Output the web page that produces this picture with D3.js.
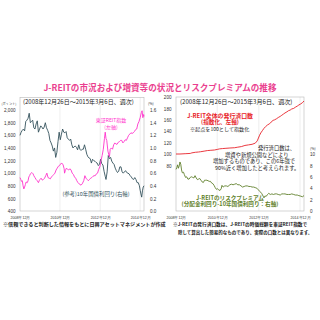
<!DOCTYPE html>
<html>
<head>
<meta charset="utf-8">
<script src="https://cdn.jsdelivr.net/npm/d3@7"></script>
<style>
  body { margin: 0; background: #fff; }
  svg { display: block; font-family: "Noto Sans CJK JP", "Noto Sans", sans-serif; }
  .ax text { fill: #333; }
</style>
</head>
<body>
<svg width="320" height="320"></svg>
<script>
// 東証REIT指数 (left chart, left axis, points)
const reitIndex = [
  ["2008-12-26",930],["2009-01-09",900],["2009-01-23",870],["2009-02-06",880],["2009-02-20",800],
  ["2009-03-06",750],["2009-03-20",780],["2009-04-03",820],["2009-04-17",860],["2009-05-08",850],
  ["2009-05-22",880],["2009-06-05",940],["2009-06-19",960],["2009-07-03",990],["2009-07-17",1000],
  ["2009-07-31",1010],["2009-08-21",990],["2009-09-04",960],["2009-09-25",930],["2009-10-16",900],
  ["2009-11-06",880],["2009-11-27",850],["2009-12-11",880],["2009-12-25",900],["2010-01-15",920],
  ["2010-02-05",890],["2010-02-26",900],["2010-03-19",920],["2010-04-09",960],["2010-04-30",1000],
  ["2010-05-21",930],["2010-06-11",920],["2010-07-02",910],["2010-07-23",940],["2010-08-13",960],
  ["2010-09-03",980],["2010-09-24",1000],["2010-10-15",1050],["2010-11-05",1080],["2010-11-26",1110],
  ["2010-12-17",1120],["2011-01-07",1150],["2011-01-28",1155],["2011-02-18",1140],["2011-03-11",1070],
  ["2011-03-18",1000],["2011-04-01",1040],["2011-04-22",1080],["2011-05-13",1060],["2011-06-03",1050],
  ["2011-06-24",1070],["2011-07-15",1050],["2011-08-05",1000],["2011-08-26",980],["2011-09-16",940],
  ["2011-10-07",920],["2011-10-28",880],["2011-11-18",850],["2011-12-09",830],["2012-01-13",810],
  ["2012-02-03",830],["2012-03-02",880],["2012-03-23",960],["2012-04-13",920],["2012-05-04",900],
  ["2012-05-25",880],["2012-06-15",900],["2012-07-06",920],["2012-07-27",930],["2012-08-17",950],
  ["2012-09-07",960],["2012-09-28",960],["2012-10-19",990],["2012-11-09",1000],["2012-11-30",1060],
  ["2012-12-21",1100],["2013-01-11",1200],["2013-02-01",1280],["2013-02-22",1380],["2013-03-15",1550],
  ["2013-03-29",1650],["2013-04-12",1550],["2013-04-26",1520],["2013-05-17",1350],["2013-05-31",1300],
  ["2013-06-14",1260],["2013-06-28",1380],["2013-07-19",1400],["2013-08-09",1380],["2013-08-30",1450],
  ["2013-09-20",1480],["2013-10-11",1460],["2013-11-01",1460],["2013-11-22",1490],["2013-12-13",1500],
  ["2014-01-03",1520],["2014-01-24",1520],["2014-02-14",1480],["2014-03-07",1500],["2014-03-28",1530],
  ["2014-04-18",1520],["2014-05-09",1560],["2014-05-30",1600],["2014-06-20",1620],["2014-07-11",1640],
  ["2014-08-01",1630],["2014-08-22",1640],["2014-09-12",1660],["2014-10-03",1690],["2014-10-24",1700],
  ["2014-11-14",1780],["2014-12-05",1820],["2014-12-26",1880],["2015-01-16",1960],["2015-01-30",1990],
  ["2015-02-13",1880],["2015-02-27",1930],["2015-03-06",1900]
];

// 10年国債利回り (left chart, right axis, %)
const jgbYield = [
  ["2008-12-26",1.20],["2009-01-16",1.25],["2009-02-06",1.28],["2009-02-27",1.30],["2009-03-20",1.27],
  ["2009-04-10",1.42],["2009-05-01",1.44],["2009-05-22",1.47],["2009-06-12",1.55],["2009-07-03",1.40],
  ["2009-07-24",1.42],["2009-08-14",1.44],["2009-09-04",1.32],["2009-09-25",1.30],["2009-10-16",1.38],
  ["2009-11-06",1.43],["2009-11-27",1.25],["2009-12-18",1.30],["2010-01-08",1.35],["2010-01-29",1.33],
  ["2010-02-19",1.30],["2010-03-12",1.33],["2010-04-02",1.40],["2010-04-23",1.32],["2010-05-14",1.28],
  ["2010-06-04",1.23],["2010-06-25",1.12],["2010-07-16",1.08],["2010-08-06",1.03],["2010-08-27",0.95],
  ["2010-09-17",1.00],["2010-10-08",0.85],["2010-10-29",0.93],["2010-11-19",1.10],["2010-12-10",1.25],
  ["2010-12-31",1.13],["2011-01-21",1.22],["2011-02-11",1.30],["2011-03-04",1.25],["2011-03-25",1.24],
  ["2011-04-15",1.26],["2011-05-06",1.16],["2011-05-27",1.14],["2011-06-17",1.12],["2011-07-08",1.14],
  ["2011-07-29",1.05],["2011-08-19",1.00],["2011-09-09",1.02],["2011-09-30",1.03],["2011-10-21",1.01],
  ["2011-11-11",0.97],["2011-12-02",1.05],["2011-12-23",0.98],["2012-01-13",0.96],["2012-02-03",0.98],
  ["2012-02-24",0.98],["2012-03-16",1.05],["2012-04-06",0.98],["2012-04-27",0.90],["2012-05-18",0.86],
  ["2012-06-08",0.84],["2012-06-29",0.83],["2012-07-20",0.76],["2012-08-10",0.82],["2012-08-31",0.80],
  ["2012-09-21",0.79],["2012-10-12",0.77],["2012-11-02",0.76],["2012-11-23",0.72],["2012-12-14",0.74],
  ["2013-01-04",0.82],["2013-01-25",0.75],["2013-02-15",0.73],["2013-03-08",0.63],["2013-03-29",0.55],
  ["2013-04-12",0.50],["2013-05-03",0.62],["2013-05-24",0.88],["2013-06-14",0.83],["2013-07-05",0.85],
  ["2013-07-26",0.79],["2013-08-16",0.76],["2013-09-06",0.74],["2013-09-27",0.68],["2013-10-18",0.64],
  ["2013-11-08",0.61],["2013-11-29",0.63],["2013-12-20",0.70],["2014-01-10",0.70],["2014-01-31",0.62],
  ["2014-02-21",0.60],["2014-03-14",0.62],["2014-04-04",0.64],["2014-04-25",0.61],["2014-05-16",0.60],
  ["2014-06-06",0.59],["2014-06-27",0.56],["2014-07-18",0.54],["2014-08-08",0.51],["2014-08-29",0.50],
  ["2014-09-19",0.53],["2014-10-10",0.50],["2014-10-31",0.45],["2014-11-21",0.45],["2014-12-12",0.40],
  ["2014-12-26",0.33],["2015-01-09",0.27],["2015-01-23",0.22],["2015-02-06",0.32],["2015-02-20",0.38],
  ["2015-03-06",0.40]
];

// J-REIT全体の発行済口数 (right chart, left axis, index start=100)
const unitsIndex = [
  ["2008-12-26",100],["2009-03-06",100],["2009-06-05",100.5],["2009-09-04",101],["2009-10-02",102],
  ["2009-12-04",103],["2010-01-29",103.5],["2010-03-05",104],["2010-05-07",105],["2010-07-02",106],
  ["2010-09-03",106.5],["2010-11-05",107],["2010-12-24",108],["2011-02-04",109],["2011-03-25",109.5],
  ["2011-05-27",110],["2011-08-05",110.5],["2011-10-28",111],["2011-12-23",112],["2012-02-24",113],
  ["2012-04-27",115],["2012-06-29",116],["2012-08-31",117],["2012-10-26",119],["2012-11-30",123],
  ["2012-12-21",128],["2013-01-11",133],["2013-02-01",137],["2013-03-01",141],["2013-03-29",145],
  ["2013-04-26",148],["2013-05-31",151],["2013-07-05",153],["2013-08-02",156],["2013-09-06",159],
  ["2013-10-04",160],["2013-11-08",162],["2013-12-06",164],["2014-01-10",166],["2014-02-07",168],
  ["2014-03-07",170],["2014-04-04",172],["2014-05-09",174],["2014-06-06",176],["2014-07-04",177],
  ["2014-08-01",179],["2014-09-05",180],["2014-10-03",182],["2014-11-07",184],["2014-12-05",186],
  ["2015-01-09",188],["2015-02-06",190],["2015-03-06",193]
];

// J-REITのリスクプレミアム (right chart, right axis, %)
const riskPremium = [
  ["2008-12-26",7.3],["2009-01-09",7.6],["2009-01-23",8.1],["2009-02-06",7.5],["2009-02-20",7.9],
  ["2009-03-06",8.6],["2009-03-20",8.2],["2009-04-03",7.2],["2009-04-17",6.7],["2009-05-08",6.8],
  ["2009-05-22",6.4],["2009-06-12",5.9],["2009-07-03",6.0],["2009-07-24",5.6],["2009-08-14",5.6],
  ["2009-09-04",5.9],["2009-09-25",6.0],["2009-10-16",5.9],["2009-11-06",5.8],["2009-11-27",6.2],
  ["2009-12-18",5.8],["2010-01-08",5.5],["2010-01-29",5.6],["2010-02-19",5.7],["2010-03-12",5.4],
  ["2010-04-02",5.1],["2010-04-23",5.0],["2010-05-14",5.4],["2010-06-04",5.4],["2010-06-25",5.4],
  ["2010-07-16",5.3],["2010-08-06",5.2],["2010-08-27",5.2],["2010-09-17",4.9],["2010-10-08",4.8],
  ["2010-10-29",4.5],["2010-11-19",4.1],["2010-12-10",3.8],["2010-12-31",3.9],["2011-01-21",3.7],
  ["2011-02-11",3.6],["2011-03-04",3.9],["2011-03-18",4.5],["2011-04-08",4.2],["2011-05-06",4.4],
  ["2011-06-03",4.4],["2011-07-01",4.3],["2011-08-05",4.6],["2011-09-02",4.7],["2011-09-30",4.6],
  ["2011-10-28",4.7],["2011-11-25",4.8],["2011-12-23",4.6],["2012-01-20",4.6],["2012-02-17",4.4],
  ["2012-03-16",4.2],["2012-04-13",4.3],["2012-05-11",4.4],["2012-06-08",4.4],["2012-07-06",4.3],
  ["2012-08-03",4.3],["2012-08-31",4.2],["2012-09-28",4.2],["2012-10-26",4.1],["2012-11-23",4.0],
  ["2012-12-21",3.7],["2013-01-18",3.4],["2013-02-15",3.1],["2013-03-15",2.6],["2013-03-29",2.3],
  ["2013-04-12",2.6],["2013-05-10",2.6],["2013-05-31",2.9],["2013-06-21",3.1],["2013-07-19",2.9],
  ["2013-08-16",3.0],["2013-09-13",2.9],["2013-10-11",3.0],["2013-11-08",3.0],["2013-12-06",2.9],
  ["2014-01-10",2.8],["2014-02-07",3.0],["2014-03-07",3.0],["2014-04-04",3.0],["2014-05-09",2.9],
  ["2014-06-06",2.9],["2014-07-04",2.9],["2014-08-01",3.0],["2014-09-05",2.9],["2014-10-03",2.8],
  ["2014-11-07",2.8],["2014-12-05",2.7],["2015-01-09",2.6],["2015-02-06",2.5],["2015-03-06",2.7]
];

const xTicks = ["2008-12-26","2010-12-24","2012-12-28","2014-12-26"];
const reitTicks = [400,600,800,1000,1200,1400,1600,1800,2000];
const jgbTicks = [0,0.2,0.4,0.6,0.8,1.0,1.2,1.4,1.6];
const unitsTicks = [80,100,120,140,160,180,200];
const premTicks = [0,2,4,6,8,10];

const parse = d3.timeParse("%Y-%m-%d");
const svg = d3.select("svg");
const period = [parse("2008-12-26"), parse("2015-03-06")];

// title
svg.append("text")
  .attr("x", 160).attr("y", 91)
  .attr("text-anchor", "middle")
  .attr("font-size", 8.6).attr("font-weight", "bold")
  .style("fill", "#ea3f8f")
  .text("J-REITの市況および増資等の状況とリスクプレミアムの推移");

// one panel: frame, gridlines, two y axes, x axis
function panel(left, right, top, bottom, yL, yR, ticksL, ticksR, fmtL, fmtR) {
  const x = d3.scaleTime().domain(period).range([left, right]);

  const g = svg.append("g");
  g.selectAll(".grid")
    .data(xTicks.slice(1))
    .enter().append("line")
    .attr("x1", d => x(parse(d))).attr("x2", d => x(parse(d)))
    .attr("y1", top).attr("y2", bottom)
    .attr("stroke", "#e2e2e2").attr("stroke-width", 0.6);

  g.append("rect")
    .attr("x", left).attr("y", top)
    .attr("width", right - left).attr("height", bottom - top)
    .attr("fill", "none").attr("stroke", "#b8b8b8").attr("stroke-width", 0.6);

  const axL = svg.append("g").attr("class", "ax")
    .attr("transform", "translate(" + (left - 1.5) + ",0)")
    .call(d3.axisLeft(yL).tickValues(ticksL).tickSize(0).tickFormat(fmtL));
  axL.select(".domain").remove();
  axL.selectAll("text").attr("font-size", 4.6).attr("dy", "0.35em");

  const axR = svg.append("g").attr("class", "ax")
    .attr("transform", "translate(" + (right + 3) + ",0)")
    .call(d3.axisRight(yR).tickValues(ticksR).tickSize(0).tickFormat(fmtR));
  axR.select(".domain").remove();
  axR.selectAll("text").attr("font-size", 4.6).attr("dy", "0.35em");

  const axX = svg.append("g").attr("class", "ax")
    .attr("transform", "translate(0," + (bottom + 2) + ")")
    .call(d3.axisBottom(x).tickValues(xTicks.map(parse)).tickSize(0)
      .tickFormat(d3.timeFormat("%Y年%m月")));
  axX.select(".domain").remove();
  axX.selectAll("text").attr("font-size", 3.6).attr("dy", "0.7em");

  return x;
}

function addLine(x, y, data, color) {
  svg.append("path")
    .datum(data)
    .attr("fill", "none")
    .attr("stroke", color)
    .attr("stroke-width", 0.9)
    .attr("stroke-linejoin", "round")
    .attr("d", d3.line().x(d => x(parse(d[0]))).y(d => y(d[1])));
}

function label(x, y, str, size, color, weight, anchor) {
  svg.append("text")
    .attr("x", x).attr("y", y)
    .attr("font-size", size)
    .attr("font-weight", weight || "normal")
    .attr("text-anchor", anchor || "start")
    .style("fill", color)
    .text(str);
}

// ---- left chart ----
const yReit = d3.scaleLinear().domain([400, 2200]).range([211, 97.5]);
const yJgb = d3.scaleLinear().domain([0, 1.8]).range([211, 97.5]);
const xL = panel(20, 144, 97.5, 211, yReit, yJgb, reitTicks, jgbTicks,
  d3.format(","), d3.format(".1f"));

addLine(xL, yJgb, jgbYield, "#34525c");
addLine(xL, yReit, reitIndex, "#ff33cc");

label(1.5, 104.5, "(ポイント)", 3.2, "#333");
label(148, 104.5, "(%)", 3.6, "#333");
label(23, 104, "(2008年12月26日～2015年3月6日、週次)", 6, "#222");
label(111, 122, "東証REIT指数", 5, "#ff33cc", "normal", "middle");
label(111, 128.5, "(左軸)", 5, "#ff33cc", "normal", "middle");
label(96, 196, "(参考)10年国債利回り(右軸)", 5.4, "#34525c", "normal", "middle");
label(3, 226, "※信頼できると判断した情報をもとに日興アセットマネジメントが作成", 5.1, "#222", "bold");

// ---- right chart ----
const yUnits = d3.scaleLinear().domain([0, 200]).range([211, 97]);
const yPrem = d3.scaleLinear().domain([0, 20]).range([211, 97]);
const xR = panel(176, 304, 97, 211, yUnits, yPrem, unitsTicks, premTicks,
  d3.format("d"), d3.format("d"));

addLine(xR, yPrem, riskPremium, "#5f7f2a");
addLine(xR, yUnits, unitsIndex, "#e8232a");

label(310, 150, "(%)", 3.6, "#333");
label(180, 103.5, "(2008年12月26日～2015年3月6日、週次)", 6.1, "#222");
label(220, 117.5, "J-REIT全体の発行済口数", 5.9, "#e8232a", "bold", "middle");
label(220, 124, "(指数化、左軸)", 5.6, "#e8232a", "bold", "middle");
label(190, 130.5, "※起点を100として指数化", 5.1, "#222");
label(258, 150, "発行済口数は、", 5.3, "#222");
label(225, 156.5, "増資や新規公開などにより", 5.3, "#222");
label(213, 163, "増加するものであり、この6年強で", 5.3, "#222");
label(215, 169.5, "90%近く増加したと考えられます。", 5.3, "#222");
label(230, 199.5, "J-REITのリスクプレミアム", 5.6, "#5f7f2a", "bold", "middle");
label(230, 206, "(分配金利回り-10年国債利回り：右軸)", 5.6, "#5f7f2a", "bold", "middle");
label(173, 225.5, "※J-REITの発行済口数は、J-REITの時価総額を東証REIT指数で", 4.7, "#222", "bold");
label(178, 233.5, "除して算出した簡易的なものであり、実際の口数とは異なります。", 4.5, "#222", "bold");
</script>
</body>
</html>
